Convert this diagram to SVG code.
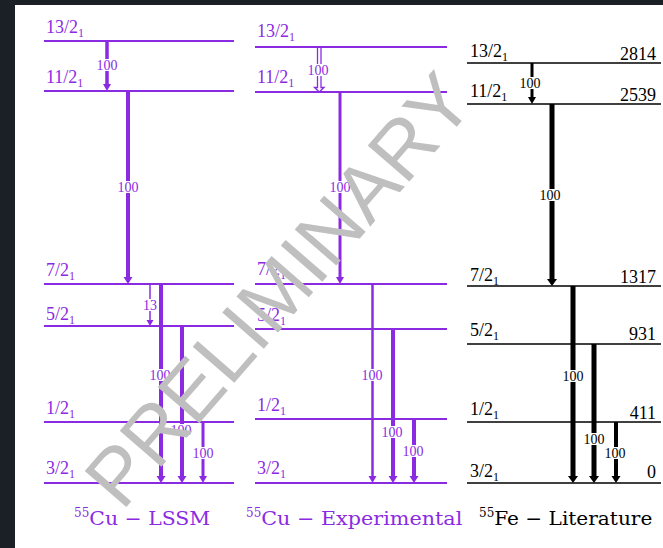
<svg xmlns="http://www.w3.org/2000/svg" width="663" height="548" viewBox="0 0 663 548">
<style>
.lp{stroke:#8a2be2;stroke-width:2;fill:none}
.lk{stroke:#000;stroke-width:1.6;fill:none}
.tp{stroke:#8a2be2;fill:none}
.tk{stroke:#000;fill:none}
.hp{fill:#8a2be2}
.hk{fill:#000}
.st{font-family:"Liberation Serif",serif;font-size:18px}
.sub{font-size:12px}
.pu{fill:#8a2be2}
.bk{fill:#000}
.lb{font-family:"Liberation Serif",serif;font-size:14px;text-anchor:middle;dominant-baseline:central}
.bg{fill:#fff}
.cap{font-family:"DejaVu Serif",serif;font-size:19px}
.wm{font-family:"Liberation Sans",sans-serif;font-size:80px;fill:#bfbfbf}
</style>
<rect x="0" y="0" width="663" height="548" fill="#fff"/>
<rect x="0" y="0" width="663" height="5" fill="#1b2026"/>
<rect x="0" y="0" width="15" height="548" fill="#1b2026"/>

<g id="lssm">
<g id="lssm-levels">
<line class="lp" x1="44" y1="41" x2="234" y2="41"/>
<line class="lp" x1="44" y1="91" x2="234" y2="91"/>
<line class="lp" x1="44" y1="284" x2="234" y2="284"/>
<line class="lp" x1="44" y1="326" x2="234" y2="326"/>
<line class="lp" x1="44" y1="422" x2="234" y2="422"/>
<line class="lp" x1="44" y1="483" x2="234" y2="483"/>
</g>
<g class="st pu">
<text x="46" y="33">13/2<tspan class="sub" dy="4">1</tspan></text>
<text x="46" y="83">11/2<tspan class="sub" dy="4">1</tspan></text>
<text x="46" y="276">7/2<tspan class="sub" dy="4">1</tspan></text>
<text x="46" y="320">5/2<tspan class="sub" dy="4">1</tspan></text>
<text x="46" y="414">1/2<tspan class="sub" dy="4">1</tspan></text>
<text x="46" y="474">3/2<tspan class="sub" dy="4">1</tspan></text>
</g>
</g>

<g id="exp">
<g id="exp-levels">
<line class="lp" x1="255" y1="47" x2="447" y2="47"/>
<line class="lp" x1="255" y1="92" x2="447" y2="92"/>
<line class="lp" x1="255" y1="284" x2="447" y2="284"/>
<line class="lp" x1="255" y1="329" x2="447" y2="329"/>
<line class="lp" x1="255" y1="419" x2="447" y2="419"/>
<line class="lp" x1="255" y1="483" x2="447" y2="483"/>
</g>
<g class="st pu">
<text x="257" y="37">13/2<tspan class="sub" dy="4">1</tspan></text>
<text x="257" y="83">11/2<tspan class="sub" dy="4">1</tspan></text>
<text x="257" y="275">7/2<tspan class="sub" dy="4">1</tspan></text>
<text x="257" y="321">5/2<tspan class="sub" dy="4">1</tspan></text>
<text x="257" y="411">1/2<tspan class="sub" dy="4">1</tspan></text>
<text x="257" y="474">3/2<tspan class="sub" dy="4">1</tspan></text>
</g>
</g>

<g id="lit">
<g id="lit-levels">
<line class="lk" x1="467" y1="63" x2="661" y2="63"/>
<line class="lk" x1="467" y1="104" x2="661" y2="104"/>
<line class="lk" x1="467" y1="286" x2="661" y2="286"/>
<line class="lk" x1="467" y1="344" x2="661" y2="344"/>
<line class="lk" x1="467" y1="422" x2="661" y2="422"/>
<line class="lk" x1="467" y1="483" x2="661" y2="483"/>
</g>
<g class="st bk">
<text x="470" y="57">13/2<tspan class="sub" dy="4">1</tspan></text>
<text x="470" y="97">11/2<tspan class="sub" dy="4">1</tspan></text>
<text x="470" y="281">7/2<tspan class="sub" dy="4">1</tspan></text>
<text x="470" y="336">5/2<tspan class="sub" dy="4">1</tspan></text>
<text x="470" y="415">1/2<tspan class="sub" dy="4">1</tspan></text>
<text x="470" y="477">3/2<tspan class="sub" dy="4">1</tspan></text>
</g>
<g class="st bk" text-anchor="end">
<text x="656" y="60">2814</text>
<text x="656" y="101">2539</text>
<text x="656" y="283">1317</text>
<text x="656" y="340">931</text>
<text x="656" y="419">411</text>
<text x="656" y="478">0</text>
</g>
</g>

<g id="connectors">
<line class="tp" x1="107" y1="41" x2="107" y2="85" stroke-width="3.5"/>
<polygon class="hp" points="103,84 111,84 107,91"/>
<line class="tp" x1="128" y1="91" x2="128" y2="278" stroke-width="4"/>
<polygon class="hp" points="123.5,277 132.5,277 128,284"/>
<line class="tp" x1="150" y1="284" x2="150" y2="321" stroke-width="1.5"/>
<polygon class="hp" points="146.5,320 153.5,320 150,326"/>
<line class="tp" x1="161" y1="284" x2="161" y2="477" stroke-width="4"/>
<polygon class="hp" points="156.5,476 165.5,476 161,483"/>
<line class="tp" x1="182" y1="326" x2="182" y2="477" stroke-width="4"/>
<polygon class="hp" points="177.5,476 186.5,476 182,483"/>
<line class="tp" x1="203" y1="422" x2="203" y2="477" stroke-width="3"/>
<polygon class="hp" points="199,476 207,476 203,483"/>
<path class="tp" stroke-width="1.3" fill="#fff" d="M317.5,47 V87.5 L314.5,87.5 L319.2,92 L324,87.5 L321,87.5 V47"/>
<line class="tp" x1="340" y1="92" x2="340" y2="278" stroke-width="3"/>
<polygon class="hp" points="336,277 344,277 340,284"/>
<line class="tp" x1="372.5" y1="284" x2="372.5" y2="477" stroke-width="2.5"/>
<polygon class="hp" points="368.5,476 376.5,476 372.5,483"/>
<line class="tp" x1="393" y1="329" x2="393" y2="477" stroke-width="4"/>
<polygon class="hp" points="388.5,476 397.5,476 393,483"/>
<line class="tp" x1="414" y1="419" x2="414" y2="477" stroke-width="4"/>
<polygon class="hp" points="409.5,476 418.5,476 414,483"/>
<line class="tk" x1="532" y1="63" x2="532" y2="98" stroke-width="3"/>
<polygon class="hk" points="528,97 536,97 532,104"/>
<line class="tk" x1="552" y1="104" x2="552" y2="280" stroke-width="5"/>
<polygon class="hk" points="547,279 557,279 552,286"/>
<line class="tk" x1="573" y1="286" x2="573" y2="477" stroke-width="5"/>
<polygon class="hk" points="568,476 578,476 573,483"/>
<line class="tk" x1="594" y1="344" x2="594" y2="477" stroke-width="5"/>
<polygon class="hk" points="589,476 599,476 594,483"/>
<line class="tk" x1="616" y1="422" x2="616" y2="477" stroke-width="4"/>
<polygon class="hk" points="611.5,476 620.5,476 616,483"/>
</g>

<g id="labels">
<rect class="bg" x="96" y="59" width="22" height="12"/>
<rect class="bg" x="117" y="181" width="22" height="12"/>
<rect class="bg" x="143" y="299" width="14" height="12"/>
<rect class="bg" x="149" y="369" width="22" height="12"/>
<rect class="bg" x="170" y="424" width="22" height="12"/>
<rect class="bg" x="192" y="447" width="22" height="12"/>
<rect class="bg" x="307" y="64" width="22" height="12"/>
<rect class="bg" x="329" y="181" width="22" height="12"/>
<rect class="bg" x="361" y="369" width="22" height="12"/>
<rect class="bg" x="381" y="426" width="22" height="12"/>
<rect class="bg" x="402" y="445" width="22" height="12"/>
<rect class="bg" x="519" y="77" width="22" height="12"/>
<rect class="bg" x="539" y="189" width="22" height="12"/>
<rect class="bg" x="562" y="370" width="22" height="12"/>
<rect class="bg" x="583" y="433" width="22" height="12"/>
<rect class="bg" x="604" y="447" width="22" height="12"/>
<g class="lb pu">
<text x="107" y="65">100</text>
<text x="128" y="187">100</text>
<text x="150" y="305">13</text>
<text x="160" y="375">100</text>
<text x="181" y="430">100</text>
<text x="203" y="453">100</text>
<text x="318" y="70">100</text>
<text x="340" y="187">100</text>
<text x="372" y="375">100</text>
<text x="392" y="432">100</text>
<text x="413" y="451">100</text>
</g>
<g class="lb bk">
<text x="530" y="83">100</text>
<text x="550" y="195">100</text>
<text x="573" y="376">100</text>
<text x="594" y="439">100</text>
<text x="615" y="453">100</text>
</g>
</g>

<g id="captions" class="cap">
<text class="pu" x="74" y="525"><tspan font-size="12" dy="-8">55</tspan><tspan dy="8" textLength="121" lengthAdjust="spacingAndGlyphs">Cu − LSSM</tspan></text>
<text class="pu" x="246" y="525"><tspan font-size="12" dy="-8">55</tspan><tspan dy="8" textLength="201" lengthAdjust="spacingAndGlyphs">Cu − Experimental</tspan></text>
<text class="bk" x="479" y="525"><tspan font-size="12" dy="-8">55</tspan><tspan dy="8" textLength="158" lengthAdjust="spacingAndGlyphs">Fe − Literature</tspan></text>
</g>

<text class="wm" transform="translate(122,512) rotate(-49)">PRELIMINARY</text>
</svg>
